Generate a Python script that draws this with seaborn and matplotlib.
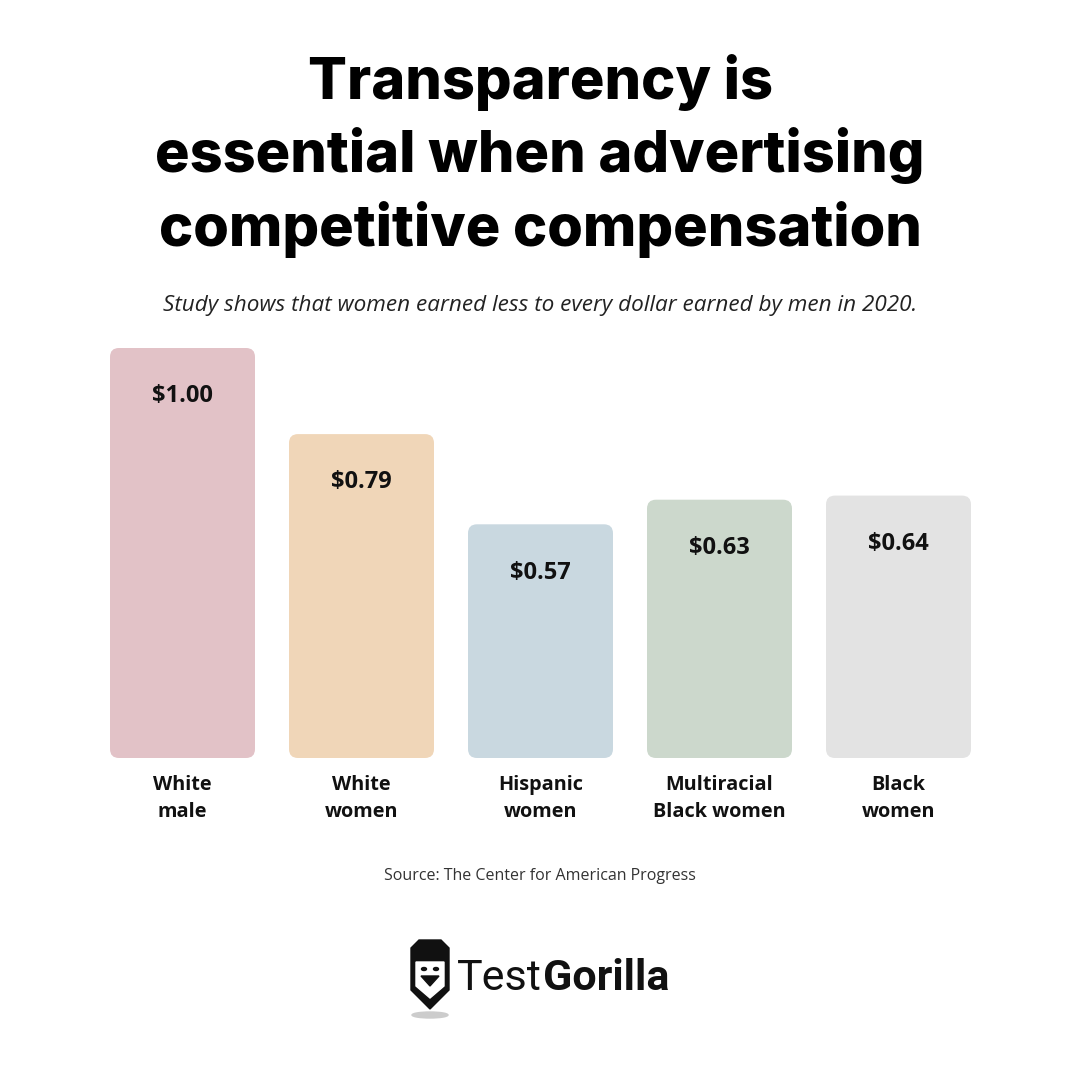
import matplotlib
matplotlib.use('Agg')
import matplotlib.pyplot as plt
from matplotlib.patches import FancyBboxPatch, Polygon, Ellipse
import seaborn as sns
import pandas as pd

categories = ['White\nmale', 'White\nwomen', 'Hispanic\nwomen',
              'Multiracial\nBlack women', 'Black\nwomen']
values = [1.00, 0.79, 0.57, 0.63, 0.64]
value_labels = ['$1.00', '$0.79', '$0.57', '$0.63', '$0.64']
colors = ['#E2C2C7', '#F0D6B8', '#C9D8E0', '#CCD8CC', '#E3E3E3']

title = 'Transparency is\nessential when advertising\ncompetitive compensation'
subtitle = 'Study shows that women earned less to every dollar earned by men in 2020.'
source = 'Source: The Center for American Progress'

sns.set_theme(style='white')
plt.rcParams['font.family'] = ['Open Sans', 'DejaVu Sans']

df = pd.DataFrame({'group': categories, 'value': values})

fig = plt.figure(figsize=(10.8, 10.8), dpi=100)
fig.patch.set_facecolor('white')
W = 1080.0
ax = fig.add_axes([93 / W, 322 / W, 895 / W, 410 / W])
sns.barplot(data=df, x='group', y='value', hue='group', palette=colors,
            legend=False, width=0.81, ax=ax, saturation=1)
ax.set_ylim(0, 1.0)
ax.set_xlim(-0.5, 4.5)

# swap plain bars for rounded ones
bars = list(ax.patches)
for bar in bars:
    x, y = bar.get_x(), bar.get_y()
    w, h = bar.get_width(), bar.get_height()
    fc = bar.get_facecolor()
    bar.remove()
    rb = FancyBboxPatch((x, y), w, h, boxstyle='round,pad=0,rounding_size=0.05',
                        mutation_aspect=179 / 410, facecolor=fc, edgecolor='none')
    ax.add_patch(rb)

for i, (v, lab) in enumerate(zip(values, value_labels)):
    ax.text(i, v - 0.118, lab, ha='center', va='center', fontsize=17,
            fontweight='bold', color='#111111')

ax.set_xlabel('')
ax.set_ylabel('')
ax.set_yticks([])
ax.tick_params(axis='x', length=0, pad=12)
for t in ax.get_xticklabels():
    t.set_fontsize(14.3)
    t.set_fontweight('bold')
    t.set_color('#111111')
    t.set_linespacing(1.47)
    t.set_va('top')
sns.despine(ax=ax, left=True, bottom=True)
ax.set_facecolor('none')

fig.text(0.5, 1 - 156 / W, title, ha='center', va='center', fontsize=41.5,
         fontweight='heavy', family=['Inter', 'DejaVu Sans'], linespacing=1.37,
         color='#000000')
fig.text(0.5, 1 - 305 / W, subtitle, ha='center', va='center', fontsize=16.2,
         style='italic', color='#222222')
fig.text(0.5, 1 - 876 / W, source, ha='center', va='center', fontsize=11.5,
         color='#333333')

# logo
lax = fig.add_axes([0, 0, 1, 1])
lax.set_xlim(0, W)
lax.set_ylim(W, 0)
lax.axis('off')
lax.add_patch(Ellipse((430, 1015), 36, 6, color='#cccccc'))
lax.add_patch(Polygon([(411, 948), (419, 940), (441, 940), (449, 948),
                       (449, 990), (430, 1009), (411, 990)],
                      closed=True, color='#111111'))
lax.add_patch(Polygon([(416, 962), (444, 962), (444, 986), (430, 998), (416, 986)],
                      closed=True, color='white'))
lax.add_patch(Polygon([(421, 976), (439, 976), (430, 986)], closed=True,
                      color='#111111'))
lax.add_patch(Ellipse((424, 969), 5, 3, color='#111111'))
lax.add_patch(Ellipse((436, 969), 5, 3, color='#111111'))
t1 = lax.text(457, 978, 'Test', ha='left', va='center', fontsize=31,
              fontweight='normal', family=['Roboto', 'DejaVu Sans'], color='#111111')
fig.canvas.draw()
bb = t1.get_window_extent()
x_end = lax.transData.inverted().transform((bb.x1, bb.y0))[0]
lax.text(x_end + 1, 978, 'Gorilla', ha='left', va='center', fontsize=31,
         fontweight='bold', family=['Roboto', 'DejaVu Sans'], color='#111111')

fig.savefig('out.png', dpi=100, facecolor='white')
